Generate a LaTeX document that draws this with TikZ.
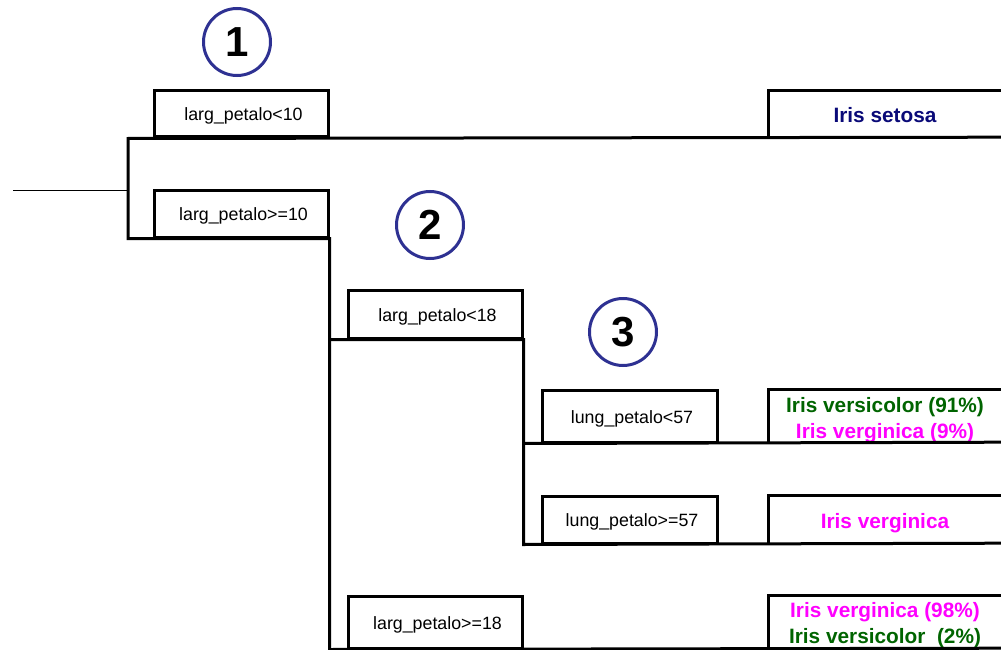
\documentclass[tikz,border=0pt]{standalone}
\usepackage{fontspec}
\setmainfont{Liberation Sans}
\definecolor{setosa}{RGB}{10,10,120}
\definecolor{versi}{RGB}{0,100,0}
\definecolor{virg}{RGB}{255,0,255}
\definecolor{ring}{RGB}{46,49,146}
\tikzset{
  wire/.style={line width=3pt, line join=miter, line cap=rect},
  inwire/.style={line width=1pt},
  cond/.style={draw, line width=3pt, inner sep=0pt, minimum width=174pt,
    text height=15pt, text depth=1pt,
    font=\fontsize{17.8}{21}\selectfont},
  rbox/.style={inner sep=0pt, minimum width=232pt},
  rtext/.style={inner sep=0pt, align=center,
    font=\fontsize{20.8}{26}\selectfont\bfseries},
  badge/.style={circle, draw=ring, line width=3pt, minimum size=67pt, inner sep=0pt,
    font=\fontsize{42}{42}\selectfont\bfseries}
}
\newcommand{\condtxt}[1]{\hspace*{5pt}#1}
\begin{document}
\begin{tikzpicture}[x=1pt,y=-1pt]
\useasboundingbox (0,0) rectangle (1001,650);

% badges
\node[badge] (b1) at (237,42) {1};
\node[badge] (b2) at (430,225) {2};
\node[badge] (b3) at (623,332) {3};

% condition boxes
\node[cond, minimum height=46pt] (c1) at (241,114) {\condtxt{larg\_petalo<10}};
\node[cond, minimum height=47pt] (c2) at (241,213.5) {\condtxt{larg\_petalo>=10}};
\node[cond, minimum height=48pt] (c3) at (435,314) {\condtxt{larg\_petalo<18}};
\node[cond, minimum height=52pt, minimum width=175pt] (c4) at (629.5,416) {\condtxt{lung\_petalo<57}};
\node[cond, minimum height=47pt, minimum width=175pt] (c5) at (629.5,519.5) {\condtxt{lung\_petalo>=57}};
\node[cond, minimum height=52pt] (c6) at (435,622) {\condtxt{larg\_petalo>=18}};

% result boxes
\node[rbox, minimum height=46pt] (r1) at (885,114) {};
\node[rbox, minimum height=52pt] (r4) at (885,416) {};
\node[rbox, minimum height=47pt] (r5) at (885,519.5) {};
\node[rbox, minimum height=52pt] (r6) at (885,622) {};
\foreach \r in {r1,r4,r5,r6}{\draw[wire] (\r.south west) |- (\r.north east);}

% result texts
\node[rtext, text=setosa] (t1) at ([yshift=-1pt]r1.center) {Iris setosa};
\node[rtext] (t4) at ([yshift=-4pt]r4.center) {\textcolor{versi}{Iris versicolor (91\%)}\\\textcolor{virg}{Iris verginica (9\%)}};
\node[rtext, text=virg] (t5) at ([yshift=-3.5pt]r5.center) {Iris verginica};
\node[rtext] (t6) at ([yshift=-3.5pt]r6.center) {\textcolor{virg}{Iris verginica (98\%)}\\\textcolor{versi}{Iris versicolor\ \ (2\%)}};

% input
\coordinate (in) at (13,190);
\coordinate (root) at (128,190);
\draw[inwire] (in) -- (root);

% tree wires
\draw[wire] (r1.south east) -- (c1.south -| root) -- (c2.south -| root)
  -- (c2.south east) -- (c2.south east |- c6.south) -- (r6.south east);
\draw[wire] (c2.south east |- c3.south) -- (c3.south east)
  -- (c3.south east |- c5.south) -- (r5.south east);
\draw[wire] (c3.south east |- c4.south) -- (r4.south east);
\end{tikzpicture}
\end{document}
